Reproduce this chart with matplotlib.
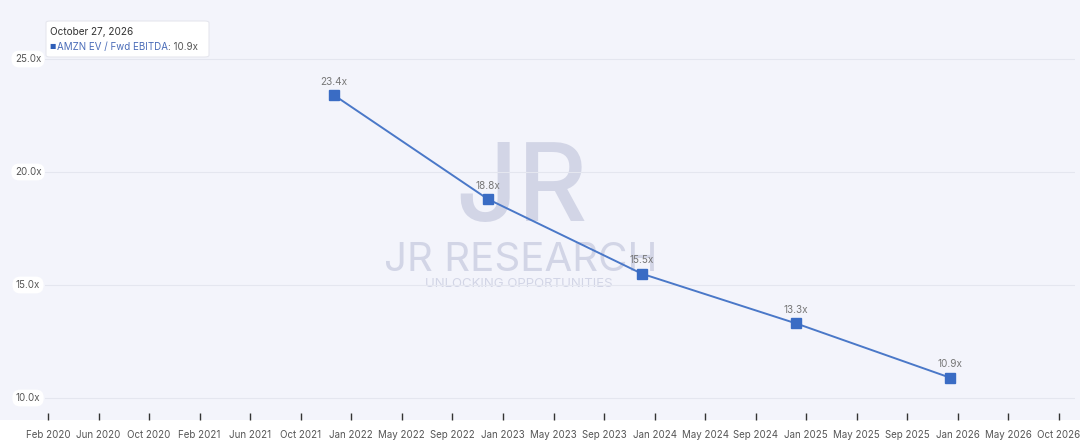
import matplotlib
matplotlib.use("Agg")
import matplotlib.pyplot as plt
import matplotlib.dates as mdates
import matplotlib.patches as mpatches
import numpy as np
import datetime as dt

# data
dates = ["2021-12-31", "2022-12-31", "2023-12-31", "2024-12-31", "2025-12-31"]
ev_ebitda = [23.4, 18.8, 15.5, 13.3, 10.9]
point_labels = ["23.4x", "18.8x", "15.5x", "13.3x", "10.9x"]

y_ticks = [10.0, 15.0, 20.0, 25.0]
x_tick_labels = ["Feb 2020", "Jun 2020", "Oct 2020", "Feb 2021", "Jun 2021", "Oct 2021",
                 "Jan 2022", "May 2022", "Sep 2022", "Jan 2023", "May 2023", "Sep 2023",
                 "Jan 2024", "May 2024", "Sep 2024", "Jan 2025", "May 2025", "Sep 2025",
                 "Jan 2026", "May 2026", "Oct 2026"]

line_c = '#4a78c8'
bg_c = '#f3f4fb'
txt_c = '#555555'

plt.rcParams['font.family'] = ['Inter', 'DejaVu Sans']

fig = plt.figure(figsize=(10.8, 4.48), dpi=100)
fig.patch.set_facecolor('white')
# lavender chart background
fig.patches.append(mpatches.Rectangle((0, 28/448), 1, 1, transform=fig.transFigure,
                                      facecolor=bg_c, edgecolor='none', zorder=-5))

# watermark
wm = '#d2d5e6'
fig.text(522/1080, 1 - 192/448, "JR", fontsize=78, fontweight='medium', color=wm,
         ha='center', va='center', zorder=-1)
fig.text(521/1080, 1 - 260/448, "JR RESEARCH", fontsize=29, color=wm,
         ha='center', va='center', zorder=-1)
fig.text(519/1080, 1 - 284/448, "UNLOCKING OPPORTUNITIES", fontsize=9.5, color=wm,
         ha='center', va='center', zorder=-1)

ax = fig.add_axes([45/1080, 28/448, 1030/1080, 420/448])
ax.set_facecolor('none')
ax.set_zorder(2)

xd = mdates.date2num([dt.datetime.strptime(d, "%Y-%m-%d") for d in dates])
ax.plot(xd, ev_ebitda, color=line_c, lw=1.4, marker='s', markersize=6.5,
        markerfacecolor='#3a6cc4', markeredgecolor='#3a6cc4', zorder=5)
for x, y, s in zip(xd, ev_ebitda, point_labels):
    ax.annotate(s, (x, y), xytext=(0, 6), textcoords='offset points', ha='center',
                va='bottom', fontsize=7.2, color='#777777', zorder=6)

px_per_day = (950 - 334) / (xd[-1] - xd[0])
x0 = xd[0] - (334 - 45) / px_per_day
x1 = xd[0] + (1075 - 334) / px_per_day
ax.set_xlim(x0, x1)
ax.set_ylim(10 - 22/22.6, 25 + 59/22.6)

t_first = xd[0] - (334 - 48) / px_per_day
t_last = xd[0] + (1059 - 334) / px_per_day
ax.set_xticks(np.linspace(t_first, t_last, len(x_tick_labels)))
ax.set_xticklabels(x_tick_labels, fontsize=7, color=txt_c)
ax.tick_params(axis='x', length=5, width=1, color='#333333', pad=7, direction='in')

ax.set_yticks(y_ticks)
ax.set_yticklabels([])
ax.tick_params(axis='y', length=0)
for yv in y_ticks:
    ax.axhline(yv, color='#e4e6ef', lw=0.8, zorder=1)
    ax.text(-17/1030, yv, "%.1fx" % yv, transform=ax.get_yaxis_transform(), ha='center',
            va='center', fontsize=7, color=txt_c,
            bbox=dict(boxstyle='round,pad=0.35,rounding_size=0.8', fc='white', ec='none'),
            clip_on=False)

for sp in ax.spines.values():
    sp.set_visible(False)

# tooltip
tip = mpatches.FancyBboxPatch((46/1080, 1 - 57/448), 163/1080, 36/448,
                              boxstyle='round,pad=0,rounding_size=0.004',
                              transform=fig.transFigure, facecolor='white',
                              edgecolor='#e6e7ee', lw=0.8, zorder=8)
fig.patches.append(tip)
fig.text(50/1080, 1 - 32/448, "October 27, 2026", fontsize=7.2, color='#333333',
         va='center', ha='left', zorder=9)
fig.text(49/1080, 1 - 47/448, "\u25A0", fontsize=5, color='#2f5fb8',
         va='center', ha='left', zorder=9)
t1 = fig.text(57/1080, 1 - 47/448, "AMZN EV / Fwd EBITDA", fontsize=7, color='#4a6cb8',
              va='center', ha='left', zorder=9)
fig.canvas.draw()
bb = t1.get_window_extent()
fig.text(bb.x1 / 1080, 1 - 47/448, ": 10.9x", fontsize=7, color='#555555',
         va='center', ha='left', zorder=9)

plt.savefig('out.png', dpi=100)
